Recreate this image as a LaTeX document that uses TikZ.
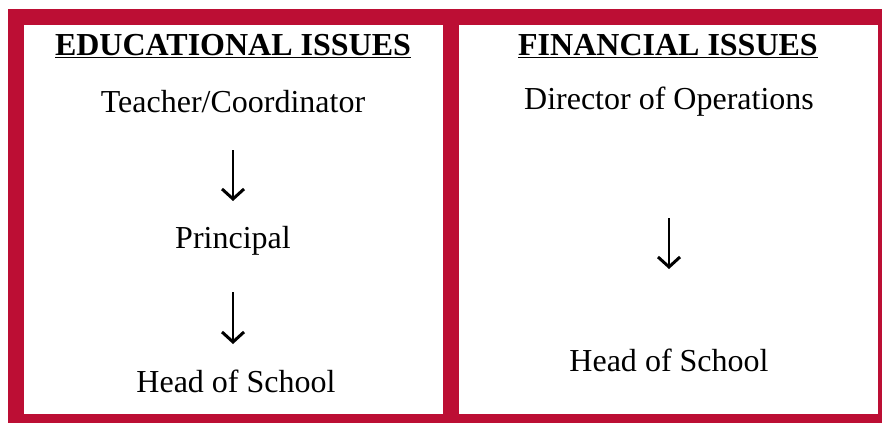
\documentclass[tikz,border=0pt]{standalone}
\usepackage{fontspec}
\setmainfont{Liberation Serif}
\usetikzlibrary{arrows.meta,positioning}
\definecolor{crimson}{RGB}{188,14,52}
\tikzset{
  panel/.style={fill=white},
  head/.style={font=\fontsize{32}{36}\selectfont\bfseries},
  item/.style={font=\fontsize{32}{38}\selectfont},
  arr/.style={-{Straight Barb[length=10pt,width=22pt,line width=3pt]}, line width=2.6pt}
}
\begin{document}
\begin{tikzpicture}[x=1pt,y=-1pt]
    \useasboundingbox (0,0) rectangle (882,423);
    \fill[crimson] (8,9) rectangle (882,423); % cadre
    \fill[panel] (24,25) rectangle (443,414);  % painel esquerdo
    \fill[panel] (459,25) rectangle (878,414); % painel direito

    % Painel esquerdo
    \node[head] (eduhead) at (233,46) {\underline{EDUCATIONAL ISSUES}};
    \node[item] (teacher) at (233,102) {Teacher/Coordinator};
    \node[item] (principal) at (233,241) {Principal};
    \node[item] (headl) at (236,381) {Head of School};
    \draw[arr, shorten <=48pt, shorten >=40pt] (teacher.center) -- (principal.center);
    \draw[arr, shorten <=51pt, shorten >=37pt] (principal.center) -- (principal.center |- headl.center);

    % Painel direito
    \node[head] (finhead) at (668,46) {\underline{FINANCIAL ISSUES}};
    \node[item] (director) at (669,102) {Director of Operations};
    \node[item] (headr) at (669,360) {Head of School};
    \draw[arr, shorten <=116pt, shorten >=91pt] (director.center) -- (headr.center);
\end{tikzpicture}
\end{document}
